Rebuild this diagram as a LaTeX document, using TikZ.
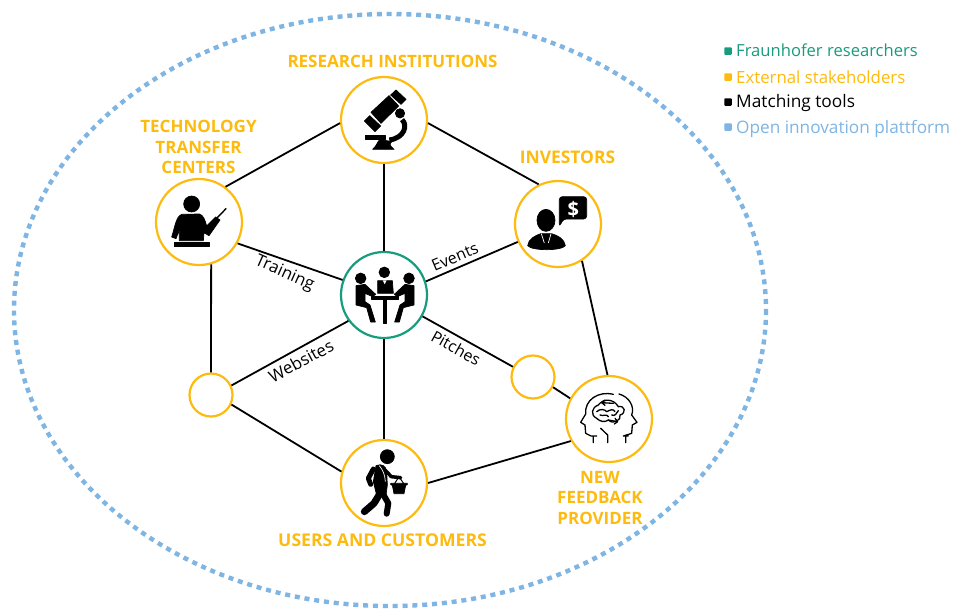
\documentclass[tikz,border=0pt]{standalone}
\usepackage{fontspec}
\setmainfont{Open Sans}
\definecolor{fgreen}{HTML}{179C7D}
\definecolor{fyellow}{HTML}{FDBB0F}
\definecolor{fblue}{HTML}{7FB5E3}
\tikzset{
  stake/.style={circle,draw=fyellow,line width=2.2pt,fill=white,minimum size=86pt,inner sep=0pt},
  core/.style={stake,draw=fgreen},
  blank/.style={stake,minimum size=43pt},
  link/.style={black,line width=1.8pt},
  head/.style={fyellow,font=\bfseries\fontsize{#1}{20.5}\selectfont,align=center,inner sep=0pt},
  head/.default=17,
  edgetext/.style={font=\fontsize{#1}{17}\selectfont,black,inner sep=0pt},
  legtext/.style={anchor=base west,font=\fontsize{#1}{20}\selectfont,inner sep=0pt},
  legbox/.style={minimum size=7.5pt,inner sep=0pt,rounded corners=0.8pt},
  ink/.style={fill=black,draw=black,line width=0.7pt,line join=round},
  stroke/.style={black,line cap=round,line join=round}
}
\begin{document}
\begin{tikzpicture}[x=1pt,y=-1pt]
\useasboundingbox (0,0) rectangle (966,608);
\fill[white] (0,0) rectangle (966,608);
\begin{scope}
\clip (0,0) rectangle (966,608);
\draw[fblue,line width=4.4pt,dash pattern=on 5pt off 4.85pt] (390,310) ellipse [x radius=376,y radius=296];
\end{scope}
% nodes
\node[stake] (r) at (384,120) {};
\node[stake] (t) at (199,222) {};
\node[core]  (c) at (384,295) {};
\node[stake] (i) at (558,224) {};
\node[stake] (f) at (609,419) {};
\node[stake] (u) at (384,483) {};
\node[blank] (a) at (211,395) {};
\node[blank] (b) at (533,377) {};
% connectors
\draw[link] (r.184) -- (t.53);
\draw[link] (r.-4) -- (i.116);
\draw[link] (r.south) -- (c.north);
\draw[link] (t.-29) -- (c.160);
\draw[link] (c.18) -- (i.204);
\draw[link] (c.216) -- (a.25);
\draw[link] (c.-29) -- (b.153);
\draw[link] (b.-27) -- (f.152);
\draw[link] (c.south) -- (u.north);
\draw[link] (t.-74) -- (a.north);
\draw[link] (a.-25) -- (u.165);
\draw[link] (u.0) -- (f.210);
\draw[link] (i.-57) -- (f.92);
% microscope
\begin{scope}[shift={(320,60)},scale=1/3]
\fill[ink] (153,157) -- (207,107) -- (236,138) -- (183,190) -- cycle;
\fill[ink] (212,105) -- (228,90) -- (258,118) -- (243,133) -- cycle;
\fill[ink] (133,183) -- (149,167) -- (182,198) -- (165,215) -- cycle;
\fill[ink] (240,160) circle (14);
\draw[stroke,line width=5pt,line cap=butt] (246,179) .. controls (264,195) and (254,234) .. (208,240);
\fill[ink] (135,227) -- (195,227) -- (195,237) -- (135,237) -- cycle;
\fill[ink] (158,268) .. controls (170,258) and (172,245) .. (180,238) -- (215,245) .. controls (205,255) and (212,258) .. (222,268) -- cycle;
\end{scope}
% teacher
\begin{scope}[shift={(140,170)},scale=1/3]
\fill[ink] (155,102) circle (24);
\fill[ink] (125,133) -- (178,132) .. controls (190,135) and (195,150) .. (200,168) -- (227,141) -- (240,150) -- (207,197) -- (192,188) -- (190,212) -- (118,212) -- (118,180) -- (108,206) -- (95,201) .. controls (105,170) and (108,140) .. (125,133) -- cycle;
\draw[stroke,line width=1.4pt] (232,143) -- (258,116);
\fill[ink] (103,218) rectangle (207,230);
\end{scope}
% meeting
\begin{scope}[shift={(330,245)},scale=1/3]
\fill[ink] (163,82) circle (16);
\fill[ink] (92,100) circle (16);
\fill[ink] (237,100) circle (16);
\fill[ink] (143,107) -- (187,107) -- (190,145) -- (143,145) -- cycle;
\fill[white] (158,106) -- (170,106) -- (164,118) -- cycle;
\fill[ink] (78,122) -- (105,118) -- (137,148) -- (128,155) -- (105,145) -- (105,170) -- (120,180) -- (136,231) -- (122,231) -- (110,188) -- (78,180) -- cycle;
\fill[ink] (252,122) -- (225,118) -- (193,148) -- (202,155) -- (225,145) -- (225,170) -- (210,180) -- (194,231) -- (208,231) -- (220,188) -- (252,180) -- cycle;
\fill[ink] (125,155) rectangle (205,163);
\fill[ink] (160,163) rectangle (169,235);
\end{scope}
% investor
\begin{scope}[shift={(505,175)},scale=1/3]
\fill[ink] (123,136) ellipse [x radius=27,y radius=33];
\fill[ink] (68,212) .. controls (70,192) and (90,182) .. (107,176) -- (140,176) .. controls (160,182) and (178,192) .. (181,212) .. controls (170,228) and (80,228) .. (68,212) -- cycle;
\draw[white,line width=0.7pt] (109,176) -- (118,204) (138,176) -- (130,204);
\fill[ink,rounded corners=3pt] (163,65) -- (245,65) -- (245,132) -- (175,132) -- (163,155) -- cycle;
\node[white,font=\bfseries\fontsize{20}{20}\selectfont,inner sep=0pt] (dollar) at (205,104) {\$};
\end{scope}
% brain head
\begin{scope}[shift={(555,370)},scale=1/3]
\draw[stroke,line width=1.3pt] (175,73) .. controls (130,62) and (88,90) .. (92,132) -- (77,157) -- (90,165) -- (92,190) -- (108,198) -- (125,198) (115,198) -- (115,218);
\draw[stroke,line width=1.3pt] (192,72) .. controls (222,80) and (240,110) .. (230,135) -- (246,157) -- (232,165) -- (230,190) -- (205,198) -- (220,198) (212,198) -- (212,218);
\draw[stroke,line width=1.3pt] (137,175) -- (158,195) -- (158,218);
\draw[stroke,line width=1.3pt] (130,105) .. controls (110,112) and (105,135) .. (125,145) .. controls (135,155) and (150,158) .. (160,150) .. controls (175,165) and (200,150) .. (195,135) .. controls (215,130) and (210,105) .. (190,110) .. controls (175,85) and (145,85) .. (130,105);
\draw[stroke,line width=1.3pt] (125,125) .. controls (135,115) and (150,118) .. (155,125) .. controls (165,120) and (175,115) .. (180,125) (170,135) .. controls (180,140) and (185,130) .. (190,122) (135,135) .. controls (145,140) and (155,130) .. (160,140) (175,100) -- (140,98) -- (150,90) (140,98) -- (150,106) (160,150) -- (188,155) -- (180,145) (188,155) -- (178,162);
\end{scope}
% shopper
\begin{scope}[shift={(330,435)},scale=1/3]
\fill[ink] (172,65) circle (21);
\fill[ink] (138,92) .. controls (155,85) and (168,92) .. (170,110) -- (172,150) -- (168,180) -- (140,180) -- (130,140) -- cycle;
\draw[stroke,line width=7pt] (152,172) -- (132,205) -- (103,230);
\draw[stroke,line width=6pt] (158,175) -- (175,205) -- (170,236);
\draw[stroke,line width=5pt] (130,102) -- (115,130) -- (122,148);
\draw[stroke,line width=3.5pt] (165,105) -- (184,125) -- (212,128);
\draw[white,line width=0.7pt] (148,92) .. controls (158,105) and (165,118) .. (166,140);
\draw[stroke,line width=1pt,line cap=butt] (193,147) -- (205,128) -- (209,128) -- (222,147);
\fill[ink] (182,145) -- (232,145) -- (232,149) -- (227,151) -- (222,176) -- (192,176) -- (187,151) -- (182,149) -- cycle;
\end{scope}
% labels
\node[head] (lr) at (392.5,61) {RESEARCH INSTITUTIONS};
\node[head] (lt) at (198.5,147) {TECHNOLOGY\\TRANSFER\\CENTERS};
\node[head=17.4] (li) at (567.5,157) {INVESTORS};
\node[head] (lf) at (600,498) {NEW\\FEEDBACK\\PROVIDER};
\node[head=17.6] (lu) at (382.5,540) {USERS AND CUSTOMERS};
\node[edgetext=16.8,rotate=-24] (e1) at (284.5,273.5) {Training};
\node[edgetext=16,rotate=23] (e2) at (455,257) {Events};
\node[edgetext=16.8,rotate=28] (e3) at (301,361) {Websites};
\node[edgetext=16,rotate=-29] (e4) at (456,348) {Pitches};
% legend
\node[legbox,fill=fgreen] (k1) at (728,51) {};
\node[legbox,fill=fyellow] (k2) at (728,77) {};
\node[legbox,fill=black] (k3) at (728,102) {};
\node[legbox,fill=fblue] (k4) at (728,127) {};
\node[legtext=16.6,text=fgreen] (t1) at (736,56) {Fraunhofer researchers};
\node[legtext=16.8,text=fyellow] (t2) at (736,83) {External stakeholders};
\node[legtext=17.3,text=black] (t3) at (736,107) {Matching tools};
\node[legtext=17.2,text=fblue] (t4) at (736,133) {Open innovation plattform};
\end{tikzpicture}
\end{document}
